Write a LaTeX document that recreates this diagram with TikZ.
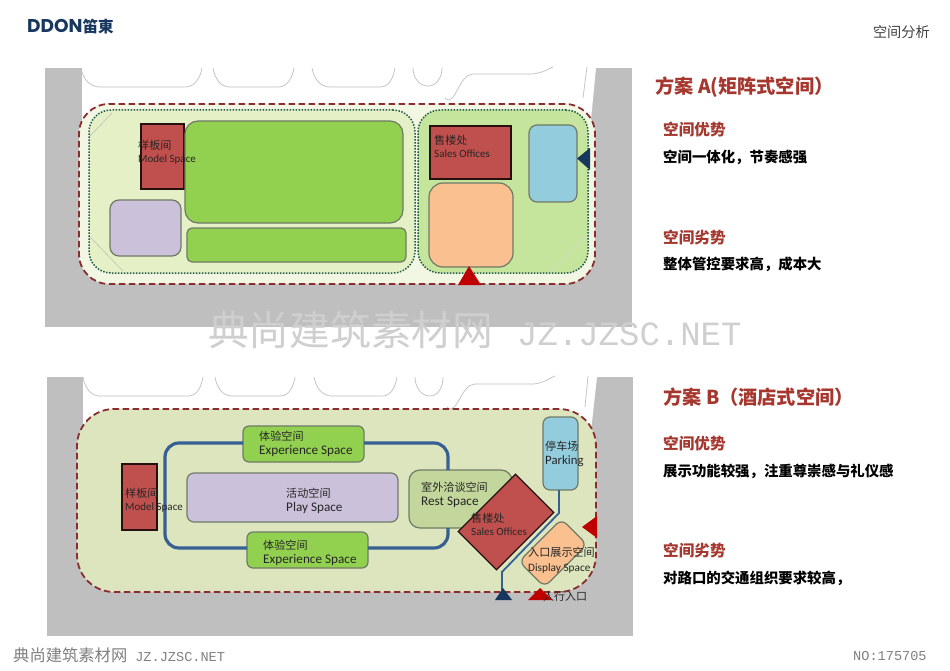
\documentclass[tikz,border=0pt]{standalone}
\usepackage{fontspec}
\setmainfont{Carlito}
\newfontfamily\cjk{Noto Sans CJK SC}
\newfontfamily\monow{Liberation Mono}
\newfontfamily\logofont{Poppins}
\usetikzlibrary{shapes, positioning}
\definecolor{roadgray}{HTML}{BFBFBF}
\definecolor{siteline}{HTML}{8A2C30}
\definecolor{dotline}{HTML}{1F5A48}
\definecolor{redroom}{HTML}{C0504D}
\definecolor{greenroom}{HTML}{92D050}
\definecolor{purpleroom}{HTML}{CCC1DA}
\definecolor{orangeroom}{HTML}{FAC090}
\definecolor{blueroom}{HTML}{93CDDD}
\definecolor{restroom}{HTML}{C3D69B}
\definecolor{roomedge}{HTML}{6F7A66}
\definecolor{roadblue}{HTML}{376092}
\definecolor{navy}{HTML}{17375E}
\definecolor{headred}{HTML}{A5372F}
\definecolor{markgray}{HTML}{CFCFCF}
\definecolor{ringfill}{HTML}{F2F7E3}
\definecolor{zoneleft}{HTML}{E5F0C6}
\definecolor{zoneright}{HTML}{C5E49C}
\definecolor{siteBfill}{HTML}{DDE5BF}
\newcommand\cn[1]{{\cjk\fontsize{11.1}{13}\selectfont #1}}
\tikzset{
        room/.style={draw=roomedge, line width=1.2pt, rounded corners=#1, inner sep=0pt, outer sep=0pt},
        room/.default=6pt,
        redbox/.style={draw=black!80!redroom, line width=1.3pt, fill=redroom, inner sep=0pt, outer sep=0pt},
        plot/.style={draw=roadgray, line width=.7pt},
        sitebound/.style={draw=siteline, line width=1.8pt, dash pattern=on 6.5pt off 3.5pt, inner sep=0pt},
        zonebound/.style={draw=dotline, line width=1.5pt, dash pattern=on 1.5pt off 1.5pt, rounded corners=22pt, inner sep=0pt},
        tag/.style={align=left, anchor=north west, inner sep=0pt, font=\fontsize{11}{13.5}\selectfont, text=black!85},
        bigtag/.style={align=left, anchor=north west, inner sep=0pt, font=\fontsize{13.2}{14}\selectfont, text=black!85},
        head/.style={anchor=west, inner sep=0pt, text=headred, font=\cjk\bfseries\fontsize{19.2}{20}\selectfont},
        subhead/.style={anchor=west, inner sep=0pt, text=headred, font=\cjk\bfseries\fontsize{15.6}{16}\selectfont},
        remark/.style={anchor=west, inner sep=0pt, font=\cjk\bfseries\fontsize{14.4}{16}\selectfont}
}
\begin{document}
\begin{tikzpicture}[x=1pt, y=-1pt]
        \useasboundingbox (0,0) rectangle (950,671);
        \fill[white] (0,0) rectangle (950,671);

        \node[anchor=west, inner sep=0pt, text=navy, font=\logofont\bfseries\fontsize{18.5}{20}\selectfont] (logo) at (27,27) {DDON{\cjk\bfseries\fontsize{15.5}{18}\selectfont 笛東}};
        \node[anchor=east, inner sep=0pt, text=black!75, font=\cjk\fontsize{14.2}{16}\selectfont] (pagetitle) at (930,32) {空间分析};

        \fill[roadgray] (45,68) rectangle (632,327);
        \fill[white] (82,68) -- (82,130) -- (590,130) -- (596,68) -- cycle;
        \draw[plot] (81,68) to[out=-80, in=180] (100,87) -- (185,87) to[out=0, in=-100] (202,68);
        \draw[plot] (213,68) to[out=-80, in=180] (230,87) -- (278,87) to[out=0, in=-100] (294,68);
        \draw[plot] (312,68) to[out=-80, in=180] (330,87) -- (380,87) to[out=0, in=-100] (395,68);
        \draw[plot] (413,68) to[out=-90, in=180] (428,86) to[out=0, in=-90] (442,68);
        \draw[plot] (445,98) to[out=-45, in=180] (473,74) -- (530,74) to[out=0, in=-155] (553,67);
        \draw[plot] (587,67) -- (583,98);
        \node[sitebound, fill=ringfill, rounded corners=30pt, minimum width=516, minimum height=180] (siteA) at (337,194) {};
        \node[zonebound, fill=zoneleft, minimum width=326, minimum height=163] (zoneAleft) at (252,191.5) {};
        \node[zonebound, fill=zoneright, minimum width=170, minimum height=163] (zoneAright) at (503,191.5) {};
        \draw[black!30] (112,113) -- (90,136) (90,237) -- (123,271);
        \draw[black!15] (563,111) -- (587,137) (550,272) -- (587,235);
        \node[redbox, minimum width=43, minimum height=65] (modelA) at (162.5,156.5) {};
        \node[room=13pt, fill=greenroom, minimum width=218, minimum height=102] (mainA) at (294,172) {};
        \node[room=5pt, fill=greenroom, minimum width=219, minimum height=34] (stripA) at (296.5,245) {};
        \node[room=9pt, fill=purpleroom, minimum width=71, minimum height=56] (purpleA) at (145.5,228) {};
        \node[redbox, minimum width=81, minimum height=53] (salesA) at (470.5,152.5) {};
        \node[room=14pt, fill=orangeroom, minimum width=84, minimum height=84] (orangeA) at (471,225) {};
        \node[room=8pt, fill=blueroom, minimum width=48, minimum height=77] (blueA) at (553,163.5) {};
        \fill[navy] (577,158.5) -- (590,148) -- (590,170) -- cycle;
        \fill[red!75!black] (469,266) -- (458,285) -- (481,285) -- cycle;
        \node[tag] (modelAtext) at (138,139.5) {\cn{样板间}\\Model Space};
        \node[tag] (salesAtext) at (434,134.5) {\cn{售楼处}\\Sales Offices};

        \fill[roadgray] (47,377) rectangle (633,636);
        \fill[white] (83,377) -- (83,440) -- (590,440) -- (597,377) -- cycle;
        \draw[plot] (83,377) to[out=-80, in=180] (100,396) -- (188,396) to[out=0, in=-100] (203,377);
        \draw[plot] (215,377) to[out=-80, in=180] (232,396) -- (280,396) to[out=0, in=-100] (295,377);
        \draw[plot] (314,377) to[out=-80, in=180] (332,396) -- (382,396) to[out=0, in=-100] (397,377);
        \draw[plot] (415,377) to[out=-90, in=180] (430,396) to[out=0, in=-90] (443,377);
        \draw[plot] (447,407) to[out=-45, in=180] (475,384) -- (532,384) to[out=0, in=-155] (555,376);
        \draw[plot] (588,376) -- (585,407);
        \node[sitebound, fill=siteBfill, rounded corners=37pt, minimum width=519, minimum height=183] (siteB) at (336.5,500.5) {};

        \node[room=6pt, fill=greenroom, minimum width=121, minimum height=36] (expA) at (303.5,444) {};
        \node[room=6pt, fill=greenroom, minimum width=121, minimum height=36] (expB) at (307.5,550) {};
        \node[room=7pt, fill=purpleroom, minimum width=211, minimum height=49] (playB) at (292.5,497.5) {};
        \node[room=11pt, fill=restroom, minimum width=103, minimum height=58] (restB) at (460.5,499) {};
        \coordinate (loopNW) at (165,443);
        \coordinate (loopSW) at (165,548);
        \coordinate (loopNE) at (448,443);
        \coordinate (loopSE) at (448,548);
        \draw[roadblue, line width=3.2pt, rounded corners=14pt] (expA.west |- loopNW) -- (loopNW) -- (loopSW) -- (expB.west |- loopSW);
        \draw[roadblue, line width=3.2pt, rounded corners=14pt] (expA.east |- loopNE) -- (loopNE) -- (loopNE |- restB.north);
        \draw[roadblue, line width=3.2pt, rounded corners=14pt] (loopNE |- restB.south) -- (loopSE) -- (expB.east |- loopSE);
        \node[redbox, minimum width=35, minimum height=66] (modelB) at (139.5,497) {};
        \node[redbox, rotate=45, minimum width=81, minimum height=54] (salesB) at (506,522) {};
        \node[room=7pt, fill=blueroom, minimum width=35, minimum height=73] (parkB) at (560.5,453.5) {};
        \node[room=7pt, fill=orangeroom, rotate=45, minimum width=60, minimum height=36] (displayB) at (553,553) {};
        \coordinate (roadbend) at (559,513);
        \coordinate (roadfoot) at (502,572);
        \coordinate (gateB) at (502,592);
        \draw[roadblue, line width=1.8pt] (parkB.south -| roadbend) -- (roadbend) -- (roadfoot) -- (gateB);
        \fill[navy] (503,588) -- (495,600) -- (512,600) -- cycle;
        \fill[red!75!black] (540,588) -- (528,600) -- (552,600) -- cycle;
        \fill[red!75!black] (582,527) -- (597,516) -- (597,538) -- cycle;
        \node[tag] (modelBtext) at (125,487.5) {\cn{样板间}\\Model Space};
        \node[bigtag] (expAtext) at (259,430.5) {\cn{体验空间}\\Experience Space};
        \node[bigtag] (expBtext) at (263,539.5) {\cn{体验空间}\\Experience Space};
        \node[bigtag] (playBtext) at (286,487.5) {\cn{活动空间}\\Play Space};
        \node[bigtag] (restBtext) at (421,481.5) {\cn{室外洽谈空间}\\Rest Space};
        \node[tag] (salesBtext) at (471,512.5) {\cn{售楼处}\\Sales Offices};
        \node[tag, font=\fontsize{12.8}{13.5}\selectfont] (parkBtext) at (545,441) {\cn{停车场}\\Parking};
        \node[tag, font=\fontsize{11.3}{15}\selectfont] (displayBtext) at (528,546.5) {\cn{入口展示空间}\\Display Space};
        \node[tag, anchor=west, font=\cjk\fontsize{11}{13}\selectfont] (walkB) at (543,596) {人行入口};

        \node[anchor=west, inner sep=0pt, text=markgray, font=\cjk\fontsize{40.7}{42}\selectfont] (mark) at (208,330) {典尚建筑素材网\hspace{24pt}{\monow\fontsize{34}{40}\selectfont JZ.JZSC.NET}};
        \node[anchor=west, inner sep=0pt, text=black!50, font=\cjk\fontsize{16.3}{18}\selectfont] (markfoot) at (13,655) {典尚建筑素材网\hspace{8pt}{\monow\fontsize{13.6}{16}\selectfont JZ.JZSC.NET}};
        \node[anchor=west, inner sep=0pt, text=black!50, font=\monow\fontsize{13.6}{16}\selectfont] (number) at (853,656) {NO:175705};

        \node[head] (planA) at (655,87) {方案 A(矩阵式空间）};
        \node[subhead] (goodA) at (663,130) {空间优势};
        \node[remark] (goodAtext) at (663,157) {空间一体化，节奏感强};
        \node[subhead] (badA) at (663,238) {空间劣势};
        \node[remark] (badAtext) at (663,264) {整体管控要求高，成本大};
        \node[head] (planB) at (663,397) {方案 B（酒店式空间）};
        \node[subhead] (goodB) at (663,444) {空间优势};
        \node[remark] (goodBtext) at (663,471) {展示功能较强，注重尊崇感与礼仪感};
        \node[subhead] (badB) at (663,551) {空间劣势};
        \node[remark] (badBtext) at (663,578) {对路口的交通组织要求较高，};
\end{tikzpicture}
\end{document}
